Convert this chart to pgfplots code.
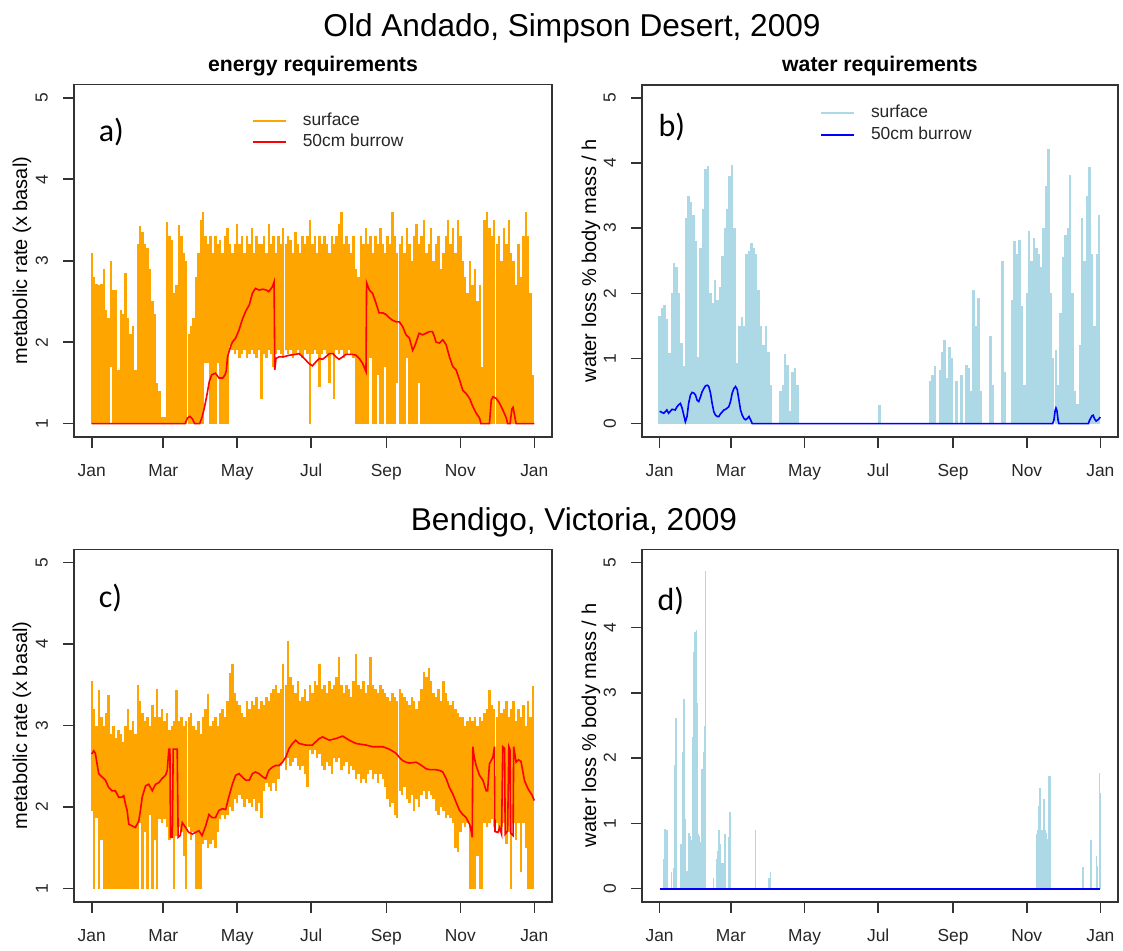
\documentclass[border=0pt]{standalone}
\usepackage{pgfplots}
\pgfplotsset{compat=1.18}
\usepackage{pgfplotstable}
\usepackage{fontspec}
\setmainfont{Liberation Sans}
\newfontfamily\calibri{Carlito}
\definecolor{rorange}{HTML}{FFA500}
\definecolor{rlightblue}{HTML}{ADD8E6}
\definecolor{rred}{HTML}{FF0000}
\definecolor{rblue}{HTML}{0000FF}
\definecolor{rbox}{HTML}{333333}

% Old Andado surface metabolic rate: 2-day bins, daily low and high
\pgfplotstableread{
d lo hi
0 1 3.1
2 1 2.8
4 1 2.72
6 1 2.7
8 1 2.72
10 1 2.9
12 1 2.4
14 1 2.3
16 1.7 3.0
18 1 2.64
20 1 2.64
22 1 1.66
24 1 2.4
26 1 2.35
28 1 2.85
30 1 2.3
32 1 2.1
34 1 2.2
36 1 1.66
38 1 3.2
40 1 3.42
42 1 3.35
44 1 3.2
46 1 3.15
48 1 2.9
50 1 2.5
52 1 2.35
54 1 1.5
56 1 1.4
58 1 1.08
60 1 1.08
62 1 3.48
64 1 3.3
66 1 3.25
68 1 2.6
70 1 2.7
72 1 3.44
74 1 3.3
76 1 3.1
78 1 3.0
80 1 2.1
82 1 2.2
84 1 2.3
86 1 2.8
88 1 3.1
90 1 3.5
92 1 3.6
94 1.74 3.3
96 1.74 3.2
98 1 3.3
100 1 3.1
102 1 3.3
104 1.74 3.2
106 1 3.25
108 1 3.1
110 1 3.3
112 1 3.4
114 1.95 3.2
116 1.9 3.1
118 1.85 3.2
120 1.9 3.45
122 1.8 3.2
124 1.85 3.3
126 1.9 3.1
128 1.8 3.3
130 1.85 3.2
132 1.9 3.4
134 1.85 3.1
136 1.8 3.3
138 1.9 3.2
140 1.3 3.2
142 1.85 3.3
144 1.8 3.1
146 1.9 3.45
148 1.85 3.2
150 1.7 3.3
152 1.85 3.1
154 1.9 3.3
156 1.85 3.2
158 1.8 3.4
160 1.9 3.2
162 1.85 3.3
164 1.9 3.25
166 1.8 3.1
168 1.85 3.35
170 1.9 3.2
172 1.85 3.1
174 1.8 3.3
176 1.9 3.2
178 1.85 3.3
180 1.0 3.5
182 1.85 3.2
184 1.9 3.3
186 1.85 3.1
188 1.45 3.3
190 1.85 3.2
192 1.9 3.3
194 1.85 3.2
196 1.5 3.1
198 1.85 3.3
200 1.3 3.2
202 1.9 3.3
204 1.85 3.45
206 1.9 3.6
208 1.8 3.2
210 1.85 3.3
212 1.9 3.2
214 1.85 3.1
216 1.8 3.3
218 1 2.9
220 1 2.8
222 1 3.3
224 1 3.2
226 1 3.4
228 1 3.2
230 1.8 3.3
232 1 3.1
234 1 3.3
236 1.6 3.2
238 1 3.4
240 1 3.2
242 1.7 3.1
244 1 3.3
246 1 3.2
248 1 3.6
250 1 3.3
252 1.5 3.1
254 1 3.2
256 1 3.3
258 1 3.1
260 1.8 3.4
262 1 3.2
264 1 3.0
266 1 3.3
268 1 3.45
270 1.5 3.2
272 1 3.3
274 1 3.5
276 1 3.1
278 1 3.2
280 1 3.4
282 1 3.0
284 1 3.2
286 1 3.3
288 1 2.9
290 1 3.1
292 1 3.3
294 1 3.5
296 1 3.2
298 1 3.4
300 1 3.1
302 1 3.5
304 1 3.3
306 1 3.0
308 1 2.8
310 1 2.6
312 1 3.0
314 1 2.7
316 1 2.9
318 1 2.5
320 1 2.7
322 1 1.7
324 1 3.5
326 1 3.6
328 1 3.4
330 1 3.3
332 1 3.5
334 1 3.2
336 1 3.3
338 1 3.0
340 1 3.4
342 1 3.2
344 1 3.5
346 1 3.1
348 1 3.0
350 1 2.7
352 1 3.2
354 1 2.8
356 1 3.3
358 1 3.6
360 1 3.3
362 1 2.6
364 1 1.6
}\tableA

% Bendigo surface metabolic rate: 2-day bins, daily low and high
\pgfplotstableread{
d lo hi
0 1.95 3.54
2 1.0 3.2
4 1.87 3.0
6 1.0 3.43
8 1.6 3.1
10 1.0 3.0
12 1.0 3.15
14 1.0 3.37
16 1.0 2.9
18 1.0 3.0
20 1.0 2.85
22 1.0 2.95
24 1.0 2.9
26 1.0 2.8
28 1.0 3.0
30 1.0 3.2
32 1.0 2.95
34 1.0 3.05
36 1.0 2.9
38 1.0 3.5
40 1.8 3.3
42 1.0 3.15
44 1.7 3.05
46 1.0 3.1
48 1.9 3.0
50 1.0 3.25
52 1.6 3.1
54 1.0 3.45
56 1.85 3.1
58 1.8 3.2
60 1.85 3.05
62 1.75 3.15
64 1.6 2.95
66 1.7 3.0
68 1.0 3.05
70 1.65 3.43
72 1.75 3.05
74 1.7 3.1
76 1.4 3.0
78 1.0 3.05
80 1.75 3.1
82 1.6 3.15
84 1.7 3.0
86 1.0 2.95
88 1.0 3.05
90 1.0 2.9
92 1.55 3.1
94 1.6 3.2
96 1.5 3.39
98 1.55 3.0
100 1.6 3.05
102 1.5 3.1
104 1.7 3.0
106 1.85 3.15
108 1.9 3.2
110 1.85 3.1
112 1.9 3.3
114 2.0 3.64
116 1.95 3.76
118 2.1 3.4
120 2.05 3.3
122 2.15 3.25
124 2.1 3.15
126 2.0 3.1
128 2.1 3.3
130 2.05 3.2
132 2.0 3.3
134 2.1 3.25
136 1.95 3.35
138 2.05 3.2
140 1.87 3.3
142 2.2 3.25
144 2.3 3.35
146 2.25 3.3
148 2.2 3.4
150 2.3 3.45
152 2.2 3.5
154 2.35 3.4
156 2.5 3.45
158 2.55 3.76
160 2.45 3.5
162 2.6 4.03
164 2.5 3.6
166 2.55 3.5
168 2.6 3.4
170 2.5 3.55
172 2.45 3.3
174 2.5 3.35
176 2.4 3.45
178 2.25 3.3
180 2.7 3.5
182 2.65 3.4
184 2.7 3.55
186 2.6 3.5
188 2.65 3.76
190 2.5 3.45
192 2.45 3.5
194 2.55 3.4
196 2.5 3.55
198 2.4 3.45
200 2.6 3.5
202 2.55 3.6
204 2.6 3.84
206 2.45 3.5
208 2.5 3.4
210 2.55 3.5
212 2.4 3.45
214 2.5 3.35
216 2.45 3.55
218 2.35 3.88
220 2.4 3.5
222 2.3 3.45
224 2.35 3.55
226 2.3 3.4
228 2.4 3.5
230 2.45 3.84
232 2.35 3.5
234 2.4 3.45
236 2.3 3.4
238 2.4 3.5
240 2.35 3.45
242 2.25 3.4
244 2.1 3.35
246 2.0 3.3
248 2.05 3.4
250 1.9 3.35
252 1.87 3.3
254 2.2 3.45
256 2.15 3.4
258 2.25 3.35
260 2.1 3.3
262 2.05 3.25
264 2.15 3.35
266 1.95 3.3
268 2.1 3.2
270 2.0 3.3
272 2.15 3.45
274 2.2 3.65
276 2.1 3.6
278 2.2 3.7
280 2.15 3.55
282 2.1 3.4
284 1.95 3.35
286 1.9 3.45
288 2.0 3.3
290 1.95 3.55
292 1.87 3.4
294 1.9 3.3
296 1.87 3.25
298 1.8 3.3
300 1.5 3.2
302 1.45 3.15
304 1.7 3.1
306 1.8 3.1
308 1.75 3.0
310 1.8 3.05
312 1.0 3.1
314 1.0 3.05
316 1.0 3.1
318 1.4 3.0
320 1.0 3.1
322 1.0 3.05
324 1.8 3.15
326 1.75 3.2
328 1.8 3.43
330 1.85 3.25
332 1.75 3.2
334 1.8 3.1
336 1.7 3.3
338 1.75 3.15
340 1.8 3.2
342 1.55 3.3
344 1.7 3.1
346 1.0 3.2
348 1.8 3.3
350 1.6 3.05
352 1.8 3.2
354 1.2 3.1
356 1.8 3.25
358 1.5 3.0
360 1.0 3.3
362 1.0 3.1
364 1.0 3.48
}\tableC

% Old Andado surface water loss: 2-day bins, daily high (low is 0)
\pgfplotstableread{
d hi
0 1.65
2 1.77
4 1.82
6 1.6
8 1.08
10 2.0
12 2.46
14 2.4
16 2.0
18 1.23
20 0.88
22 3.15
24 3.5
26 3.4
28 3.2
30 2.8
32 1.03
34 2.7
36 3.3
38 3.9
40 3.95
42 2.0
44 1.85
46 2.2
48 1.9
50 2.1
52 2.57
54 3.0
56 3.3
58 3.8
60 3.97
62 3.0
64 0.93
66 1.5
68 1.64
70 1.5
72 2.6
74 2.65
76 2.77
78 2.7
80 2.6
82 2.05
84 1.5
86 1.2
88 1.5
90 1.1
92 0.6
100 0.5
102 0.6
104 1.07
106 0.9
108 0.2
110 0.8
112 0.86
114 0.6
182 0.29
224 0.65
226 0.75
228 0.88
232 0.82
234 1.1
236 1.29
238 0.7
240 1.18
242 1.0
246 0.65
250 0.75
254 0.9
256 0.85
258 0.5
260 2.05
262 1.5
264 1.93
266 0.5
274 1.34
276 0.6
284 2.49
286 0.8
292 1.9
294 2.8
296 2.6
298 2.82
300 1.8
302 0.6
304 2.0
306 2.95
308 2.5
310 2.85
312 2.7
314 2.6
316 2.4
318 3.0
320 3.65
322 4.22
324 2.0
326 1.0
328 1.13
330 0.6
332 1.7
334 2.56
336 2.9
338 3.0
340 3.82
342 2.0
344 0.5
346 0.3
348 1.2
350 3.15
352 2.5
354 3.5
356 3.93
358 2.6
360 1.5
362 2.6
364 3.2
}\tableB

% Bendigo surface water loss: individual spikes
\pgfplotstableread{
d hi
3 0.45
4 0.91
5 0.91
6 0.9
10 0.25
11.3 0.32
12.5 1.89
13.4 2.62
17.8 0.68
19.3 2.09
20.2 2.91
21.4 1.07
22.6 0.27
24.3 0.86
25 0.8
25.8 0.76
26.5 0.75
27.3 2.32
28.2 3.63
29.4 3.94
30.3 3.96
31.2 2.84
32 0.84
32.8 0.8
33.6 0.71
35 1.84
36.2 2.09
37.1 2.5
38 4.86
44.5 0.17
46.9 0.45
48.1 0.58
49.3 0.9
50.4 0.68
51.5 0.4
52.8 0.4
54 0.84
57 0.79
58.2 1.17
79.2 0.9
90.5 0.17
91.7 0.25
312.2 0.84
313 0.9
314 1.27
315.1 1.55
316 0.9
316.8 0.84
317.6 0.9
318.3 1.37
319 0.9
320 0.85
321 0.76
322 0.8
322.6 1.73
323.7 1.73
350.7 0.33
357.3 0.75
361.7 0.5
362.6 0.35
364.1 1.77
365 1.46
}\tableD

\tikzset{plabel/.style={anchor=west, inner sep=0pt, font=\calibri\fontsize{16}{19}\selectfont}}

\pgfplotsset{
  rpanel/.style={
    scale only axis,
    axis on top,
    clip=true,
    xmin=-14.6, xmax=379.6,
    xtick={0,59,120,181,243,304,365},
    xticklabels={Jan,Mar,May,Jul,Sep,Nov,Jan},
    xtick pos=bottom, ytick pos=left,
    tick align=outside,
    major tick length=5.5pt,
    axis line style={rbox, line width=0.8pt},
    every tick/.style={rbox, line width=0.8pt},
    /pgf/number format/assume math mode=true,
    tick label style={font=\fontsize{8.7}{10}\selectfont, text=black!85},
    label style={font=\fontsize{8.7}{10}\selectfont, text=black!85},
    xticklabel style={anchor=base, yshift=-14.2pt},
    yticklabel style={xshift=-10.6pt, rotate=90, anchor=center},
    every axis y label/.style={at={(axis description cs:-0.1088,0.5)}, rotate=90, anchor=center},
    legend cell align=left,
    legend image code/.code={\draw[##1] (0pt,0pt) -- (16.5pt,0pt);},
    legend style={draw=none, fill=none, inner sep=0pt, outer sep=0pt,
      font=\fontsize{8.7}{10}\selectfont, text=black!85,
      nodes={inner sep=0pt, text height=6.3pt, text depth=1.8pt},
      /tikz/every odd column/.style={column sep=8pt}},
  },
}

\begin{document}
\begin{tikzpicture}
\useasboundingbox (0,0) rectangle (561.5pt,475pt);

\node[anchor=base, font=\fontsize{15.8}{19}\selectfont] at (286pt,456.6pt) {Old Andado, Simpson Desert, 2009};
\node[anchor=base, font=\bfseries\fontsize{10.6}{13}\selectfont] at (156.5pt,439.2pt) {energy requirements};
\node[anchor=base, font=\bfseries\fontsize{10.6}{13}\selectfont] at (440pt,439.2pt) {water requirements};
\node[anchor=base, font=\fontsize{15.8}{19}\selectfont] at (287pt,210pt) {Bendigo, Victoria, 2009};

% ---------------- a) ----------------
\begin{axis}[rpanel, at={(37pt,256.65pt)}, anchor=south west,
  width=239pt, height=176pt,
  ymin=0.84, ymax=5.16, ytick={1,2,3,4,5},
  ylabel={metabolic rate (x basal)},
  legend style={at={(axis description cs:0.372,0.921)}, anchor=north west, row sep=2.75pt}]
\addlegendimage{rorange, line width=1pt}
\addlegendentry{surface}
\addlegendimage{rred, line width=1pt}
\addlegendentry{50cm burrow}
\addplot[rorange, -, line width=1.2pt, forget plot,
  quiver={u=0, v=\thisrow{hi}-\thisrow{lo}}] table[x=d, y=lo] {\tableA};
\addplot[rred, line width=0.8pt, forget plot] coordinates {
(0,1.0) (77,1.0) (79,1.07) (81,1.09) (83,1.06) (85,1.0) (89,1.0) (91,1.08) (93,1.2)
(95,1.35) (97,1.52) (99,1.6) (102,1.62) (105,1.56) (108,1.56) (110,1.6) (111,1.65)
(112,1.82) (114.6,1.95) (116,2.0) (118.7,2.05) (121.5,2.15) (124,2.27) (127,2.38)
(130,2.46) (132.5,2.6) (135,2.66) (138,2.64) (141,2.65) (144,2.64) (146,2.62)
(149,2.68) (150.4,2.74) (151,1.66) (152,1.8) (154.5,1.82) (158,1.82) (163,1.84)
(168,1.85) (171,1.86) (174,1.82) (176.6,1.78) (179,1.74) (182,1.71) (185,1.76)
(187.6,1.8) (190.4,1.79) (193,1.82) (196,1.86) (199,1.86) (201.4,1.82) (204,1.79)
(207,1.82) (209.6,1.85) (215,1.85) (218,1.84) (220.7,1.8) (223.4,1.74) (226.2,1.64)
(226.7,2.73) (229,2.64) (231.7,2.6) (234.4,2.48) (237,2.36) (240,2.36) (242.7,2.34)
(245.4,2.3) (248,2.27) (251,2.25) (253.7,2.25) (256.5,2.19) (259.2,2.09) (262,2.05)
(264.7,1.9) (266,1.94) (267.5,2.0) (270,2.11) (273,2.09) (275.7,2.11) (278.5,2.13)
(281,2.13) (282.6,2.07) (284,2.0) (286.8,1.99) (289.5,2.03) (292.3,1.97) (295,1.82)
(297.8,1.7) (300.5,1.66) (303.3,1.54) (306,1.41) (308.8,1.37) (311.6,1.31)
(314.3,1.21) (317,1.13) (319.8,1.07) (321,1.0) (328,1.0) (329.5,1.29) (331,1.33)
(333.6,1.31) (336.4,1.25) (339,1.17) (341.9,1.07) (343,1.0) (345,1.0) (346.5,1.18)
(347.5,1.2) (349,1.08) (350,1.0) (365,1.0)};
\node[plabel] at (axis description cs:0.051,0.865) {a)};
\end{axis}

% ---------------- b) ----------------
\begin{axis}[rpanel, at={(321pt,256.65pt)}, anchor=south west,
  width=238pt, height=176pt,
  ymin=-0.2, ymax=5.2, ytick={0,1,2,3,4,5},
  ylabel={water loss \% body mass / h},
  every axis y label/.style={at={(axis description cs:-0.107,0.5)}, rotate=90, anchor=center},
  legend style={at={(axis description cs:0.374,0.943)}, anchor=north west, row sep=2.75pt}]
\addlegendimage{rlightblue, line width=1pt}
\addlegendentry{surface}
\addlegendimage{rblue, line width=1pt}
\addlegendentry{50cm burrow}
\addplot[rlightblue, -, line width=1.2pt, forget plot,
  quiver={u=0, v=\thisrow{hi}}] table[x=d, y expr=0] {\tableB};
\addplot[rblue, line width=0.8pt, forget plot] coordinates {
(0,0.19) (3.4,0.16) (6,0.21) (7.4,0.16) (10.3,0.22) (13,0.21) (14.4,0.26) (15.8,0.29)
(17.2,0.31) (18.6,0.24) (20,0.13) (21.3,0.03) (22.7,0.11) (24,0.31) (25.5,0.44)
(26.9,0.48) (28.3,0.47) (29.7,0.44) (31,0.36) (32.4,0.34) (33.8,0.41) (35.2,0.49)
(36.6,0.54) (38,0.58) (39.4,0.59) (40.7,0.57) (42.1,0.47) (43.5,0.31) (44.9,0.18)
(46.3,0.13) (47.7,0.11) (49,0.11) (50.4,0.15) (51.8,0.18) (53.2,0.21) (54.6,0.22)
(56,0.24) (57.3,0.26) (58.7,0.34) (60.1,0.47) (61.5,0.54) (62.9,0.57) (64.3,0.52)
(65.7,0.36) (67,0.21) (68.4,0.13) (69.8,0.08) (71.2,0.06) (72.6,0.08) (74,0.11)
(75.3,0.06) (76.7,0.0) (325.4,0.0) (326.5,0.05) (327.5,0.2) (328.2,0.24) (329,0.2)
(330,0.05) (330.7,0.0) (355,0.0) (356,0.05) (358,0.12) (359,0.13) (360,0.08)
(361.5,0.04) (363,0.06) (365,0.1)};
\node[plabel] at (axis description cs:0.034,0.88) {b)};
\end{axis}

% ---------------- c) ----------------
\begin{axis}[rpanel, at={(37pt,24.15pt)}, anchor=south west,
  width=239pt, height=176.2pt,
  ymin=0.84, ymax=5.16, ytick={1,2,3,4,5},
  ylabel={metabolic rate (x basal)}]
\addplot[rorange, -, line width=1.2pt, forget plot,
  quiver={u=0, v=\thisrow{hi}-\thisrow{lo}}] table[x=d, y=lo] {\tableC};
\addplot[rred, line width=0.8pt, forget plot] coordinates {
(0,2.65) (1.7,2.69) (3,2.66) (4.4,2.53) (5.8,2.41) (7,2.39) (8.5,2.37) (10,2.35)
(11.3,2.33) (14,2.24) (16.8,2.2) (19.5,2.2) (22.3,2.12) (25,2.12) (26.4,2.14)
(27.8,2.04) (29.2,1.96) (30.6,1.79) (33.3,1.77) (36,1.75) (38.8,1.83) (40.2,1.96)
(41.6,2.12) (44.4,2.26) (47,2.28) (50,2.2) (52.7,2.28) (55.4,2.3) (58,2.35)
(60.9,2.39) (62.3,2.45) (63.6,2.71) (64.5,2.71) (65,1.63) (66.5,1.63) (67.2,2.71)
(70.5,2.71) (71.3,1.63) (73,1.65) (74.7,1.81) (77.4,1.75) (80,1.69) (83,1.67)
(85.7,1.69) (88.4,1.71) (91,1.65) (94,1.77) (96.7,1.91) (99.4,1.87) (102,1.87)
(105,1.96) (107.7,1.98) (110.5,1.97) (113,2.12) (116,2.28) (118.7,2.39) (121.5,2.41)
(124,2.37) (127,2.33) (130,2.33) (132.5,2.41) (135,2.43) (138,2.41) (141,2.37)
(143.5,2.35) (146,2.45) (149,2.49) (151.8,2.51) (154.5,2.51) (157.3,2.55) (160,2.61)
(162.8,2.72) (165.6,2.78) (168.3,2.82) (171,2.78) (176.6,2.76) (182,2.76)
(187.6,2.84) (190.4,2.86) (195.9,2.82) (201.4,2.84) (206.9,2.87) (212.4,2.82)
(217.9,2.78) (226.2,2.76) (231.7,2.74) (240,2.74) (245.4,2.71) (251,2.66)
(253.7,2.61) (256.5,2.57) (259.2,2.55) (262,2.54) (267.5,2.55) (270,2.53) (273,2.5)
(275.7,2.47) (278.5,2.46) (283,2.46) (286.8,2.45) (289.5,2.43) (292.3,2.35)
(295,2.24) (297.8,2.16) (300.5,2.06) (303.3,1.96) (306,1.91) (308.8,1.87)
(311.6,1.79) (312.9,1.71) (313.8,1.63) (314.3,2.74) (315.5,2.61) (317,2.51)
(319.8,2.39) (322.6,2.33) (325.3,2.2) (326.5,2.2) (328,2.53) (330.8,2.61)
(332.2,2.74) (332.6,1.7) (335,1.69) (336.4,1.75) (338,1.67) (339,2.74) (340.5,2.72)
(341,1.67) (343,1.71) (344,2.74) (345,2.7) (345.5,1.68) (347.5,1.65) (348,2.74)
(350,2.55) (352,2.58) (354,2.56) (357,2.32) (360,2.22) (363,2.15) (365,2.08)};
\node[plabel] at (axis description cs:0.051,0.862) {c)};
\end{axis}

% ---------------- d) ----------------
\begin{axis}[rpanel, at={(321pt,24.15pt)}, anchor=south west,
  width=238pt, height=176.2pt,
  ymin=-0.2, ymax=5.2, ytick={0,1,2,3,4,5},
  ylabel={water loss \% body mass / h},
  every axis y label/.style={at={(axis description cs:-0.107,0.5)}, rotate=90, anchor=center}]
\addplot[rlightblue, -, line width=0.7pt, forget plot,
  quiver={u=0, v=\thisrow{hi}}] table[x=d, y expr=0] {\tableD};
\addplot[rblue, line width=0.9pt, forget plot] coordinates {(0,0) (365,0)};
\node[plabel] at (axis description cs:0.032,0.852) {d)};
\end{axis}
\end{tikzpicture}
\end{document}
